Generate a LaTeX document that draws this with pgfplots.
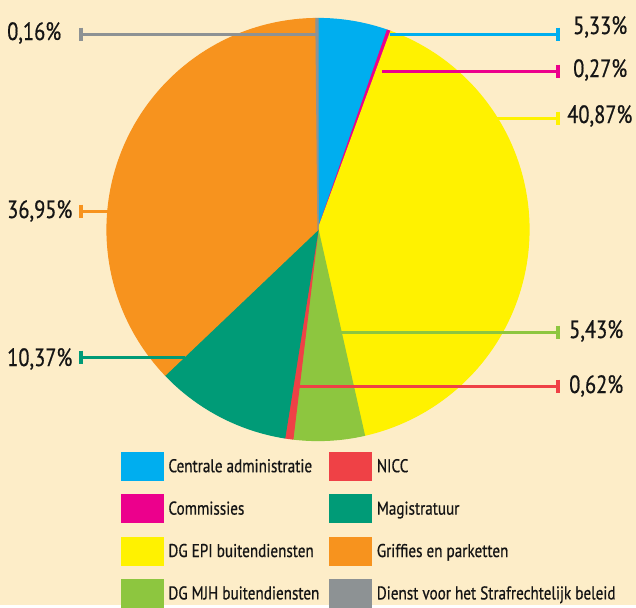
\documentclass[border=0pt]{standalone}
\usepackage{pgfplots}
\pgfplotsset{compat=1.18}
\usepackage{fontspec}
\setmainfont{PT Sans}[FakeStretch=0.82, FakeBold=0.6]
\definecolor{bgc}{HTML}{FDEDC8}
\definecolor{cblue}{HTML}{00AEEF}
\definecolor{cmag}{HTML}{EC008C}
\definecolor{cyel}{HTML}{FFF200}
\definecolor{cgreen}{HTML}{8DC63F}
\definecolor{cred}{HTML}{EF4146}
\definecolor{cteal}{HTML}{009B77}
\definecolor{corange}{HTML}{F7931E}
\definecolor{cgray}{HTML}{8D9294}
\definecolor{ctext}{HTML}{151515}
\def\cum{0}
\newcommand\slice[2]{%
  \pgfmathsetmacro\angA{90-3.6*\cum}%
  \pgfmathsetmacro\angB{90-3.6*(\cum+#1)}%
  \edef\doslice{\noexpand\addplot[fill=#2, draw=#2, line width=1.2pt, line join=round, domain=\angB:\angA, samples=90, forget plot] ({318+211*cos(x)},{229.5-211*sin(x)}) -- (axis cs:318,229.5) -- cycle;}%
  \doslice
  \pgfmathsetmacro\newcum{\cum+#1}\global\let\cum\newcum
}
\newcommand\lab{\fontsize{25}{30}\selectfont\color{ctext}}
\begin{document}
\begin{tikzpicture}
\begin{axis}[hide axis, scale only axis, width=636pt, height=605pt,
  xmin=0, xmax=636, ymin=0, ymax=605, y dir=reverse, clip=false,
  legend columns=2, legend cell align=left,
  legend style={at={(0.1903,0.2529)}, anchor=north west, draw=none, fill=none,
    inner sep=0pt, outer sep=0pt, row sep=14pt,
    nodes={inner sep=0pt, anchor=base west, font=\fontsize{18.5}{22}\selectfont, text=ctext},
    /tikz/every odd column/.append style={column sep=5pt}},
  legend image code/.code={\fill[#1] (0pt,-8pt) rectangle (42pt,20pt);},
  leader/.style={line width=3pt, mark=|, mark size=6.5pt, mark indices={2}, mark options={solid, line width=3.5pt}, forget plot}
]
\fill[bgc] (axis description cs:0,0) rectangle (axis description cs:1,1);
% slices (percentages, clockwise from top)
\slice{5.33}{cblue}
\slice{0.27}{cmag}
\slice{40.87}{cyel}
\slice{5.43}{cgreen}
\slice{0.62}{cred}
\slice{10.37}{cteal}
\slice{36.95}{corange}
\slice{0.16}{cgray}
% leader lines
\addplot[leader, color=cgray] coordinates {(316,34) (81,34)};
\addplot[leader, color=cblue] coordinates {(390,34) (558,34)};
\addplot[leader, color=cmag] coordinates {(382,71) (558,71)};
\addplot[leader, color=cyel] coordinates {(480,118) (558,118)};
\addplot[leader, color=cgreen] coordinates {(340,332) (558,332)};
\addplot[leader, color=cred] coordinates {(298,386) (558,386)};
\addplot[leader, color=corange] coordinates {(110,211) (81,211)};
\addplot[leader, color=cteal] coordinates {(185,357) (81,357)};
% labels
\node[anchor=base west, inner sep=0pt] at (axis cs:7,40) {\lab 0,16\%};
\node[anchor=base west, inner sep=0pt] at (axis cs:7,218) {\lab 36,95\%};
\node[anchor=base west, inner sep=0pt] at (axis cs:7,366) {\lab 10,37\%};
\node[anchor=base west, inner sep=0pt] at (axis cs:573,34) {\lab 5,33\%};
\node[anchor=base west, inner sep=0pt] at (axis cs:573,77) {\lab 0,27\%};
\node[anchor=base west, inner sep=0pt] at (axis cs:567,123) {\lab 40,87\%};
\node[anchor=base west, inner sep=0pt] at (axis cs:569,338) {\lab 5,43\%};
\node[anchor=base west, inner sep=0pt] at (axis cs:569,393) {\lab 0,62\%};
% legend
\addlegendimage{cblue}\addlegendentry{\makebox[161pt][l]{Centrale administratie}}
\addlegendimage{cred}\addlegendentry{NICC}
\addlegendimage{cmag}\addlegendentry{\makebox[161pt][l]{Commissies}}
\addlegendimage{cteal}\addlegendentry{Magistratuur}
\addlegendimage{cyel}\addlegendentry{\makebox[161pt][l]{DG EPI buitendiensten}}
\addlegendimage{corange}\addlegendentry{Griffies en parketten}
\addlegendimage{cgreen}\addlegendentry{\makebox[161pt][l]{DG MJH buitendiensten}}
\addlegendimage{cgray}\addlegendentry{Dienst voor het Strafrechtelijk beleid}
\end{axis}
\end{tikzpicture}
\end{document}
